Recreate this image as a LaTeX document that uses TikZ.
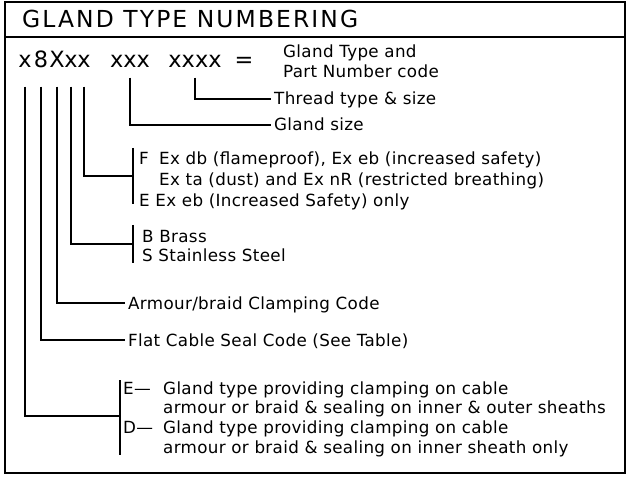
\documentclass[tikz,border=0pt]{standalone}
\usepackage{fontspec}
\setmainfont{DejaVu Sans}
\newfontfamily\widefont[LetterSpace=2]{DejaVu Sans}
\newfontfamily\titlefont[LetterSpace=9]{DejaVu Sans}
\usetikzlibrary{positioning}

\begin{document}
\begin{tikzpicture}
    [x=1bp,y=-1bp,line width=1.4bp,
     every node/.style={inner xsep=2.5bp, inner ysep=0pt, text height=12bp, text depth=0pt, font=\widefont\fontsize{16.8}{19}\selectfont},
     big/.style={text height=16bp, font=\fontsize{22.5}{24}\selectfont},
     lbl/.style={anchor=west}]
  \useasboundingbox (0,0) rectangle (629,477);
  \draw (5,2) rectangle (625,473);
  \draw (5,37) -- (625,37);

  \node[big,lbl,font=\titlefont\fontsize{23.5}{25}\selectfont] (title) at (19,20) {GLAND TYPE NUMBERING};

  % the code, one node per character that gets a leader
  \node[big] (k1) at (25,60) {x};
  \node[big] (k2) at (41,60) {8};
  \node[big] (k3) at (57,60) {X};
  \node[big] (k4) at (71,60) {x};
  \node[big] (k5) at (84,60) {x};
  \node[big] (size) at (130,60) {xxx};
  \node[big] (thread) at (195,60) {xxxx};
  \node[big] (eq) at (244,60) {=};

  \node[lbl] (gtype) at (280,52) {Gland Type and};
  \node[lbl] (pnum) at (280,72) {Part Number code};
  \node[lbl] (thr) at (271,99) {Thread type \& size};
  \node[lbl] (gsize) at (271,125) {Gland size};

  \node[lbl] (exF) at (136,159) {\makebox[20bp][l]{F}Ex db (flameproof), Ex eb (increased safety)};
  \node[lbl] (exF2) at (156,180) {Ex ta (dust) and Ex nR (restricted breathing)};
  \node[lbl] (exE) at (136,201) {E Ex eb (Increased Safety) only};

  \node[lbl] (brass) at (139,237) {B Brass};
  \node[lbl] (steel) at (139,255) {S Stainless Steel};

  \node[lbl] (armour) at (125,303) {Armour/braid Clamping Code};
  \node[lbl] (flat) at (125,340) {Flat Cable Seal Code (See Table)};

  \node[lbl] (typeE) at (120,388) {\makebox[40bp][l]{E—}Gland type providing clamping on cable};
  \node[lbl] (typeE2) at (160,407) {armour or braid \& sealing on inner \& outer sheaths};
  \node[lbl] (typeD) at (120,427) {\makebox[40bp][l]{D—}Gland type providing clamping on cable};
  \node[lbl] (typeD2) at (160,447) {armour or braid \& sealing on inner sheath only};

  % brackets
  \coordinate (bF) at (133,176);
  \coordinate (bB) at (133,244);
  \coordinate (bD) at (120,416);
  \draw ([yshift=28bp]bF) -- ([yshift=-28bp]bF);
  \draw ([yshift=19bp]bB) -- ([yshift=-19bp]bB);
  \draw ([yshift=36bp]bD) -- ([yshift=-39bp]bD);

  \foreach \from/\to in {thread/thr, size/gsize}
    \draw ([yshift=-9bp]\from.south) |- (\to);

  \foreach \from/\to in {k5/bF, k4/bB, k3/armour, k2/flat, k1/bD}
    \draw ([yshift=-18bp]\from.south) |- (\to);
\end{tikzpicture}
\end{document}
